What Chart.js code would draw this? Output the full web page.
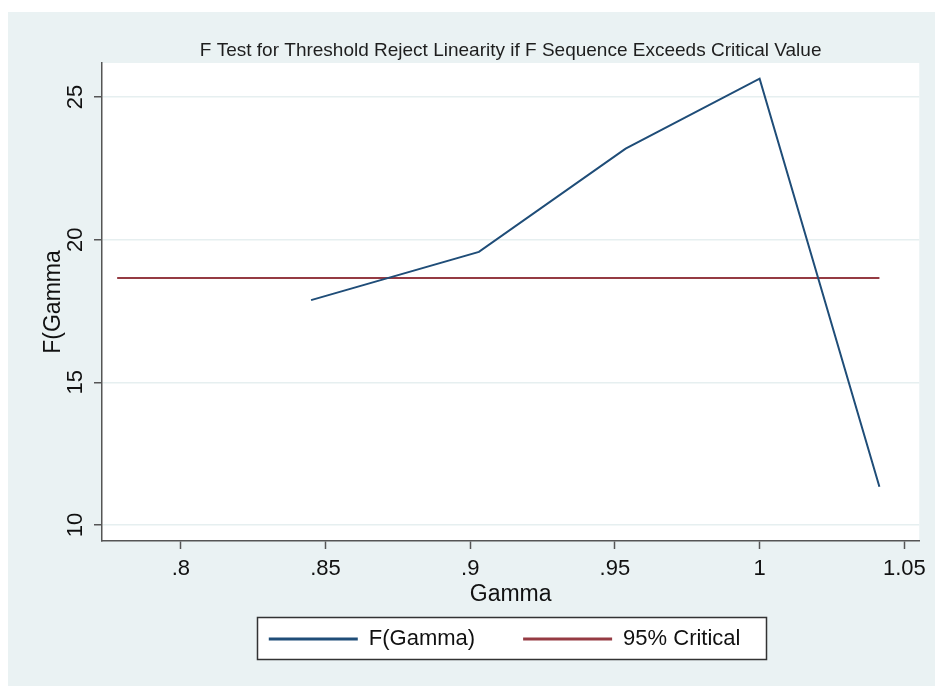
<!DOCTYPE html>
<html>
<head>
<meta charset="utf-8">
<script src="https://cdn.jsdelivr.net/npm/chart.js@4/dist/chart.umd.min.js"></script>
<style>
  html, body { margin: 0; padding: 0; background: #ffffff; }
  #wrap { position: absolute; left: 0; top: 0; width: 935px; height: 686px; }
</style>
</head>
<body>
<div id="wrap"><canvas id="c" width="935" height="686"></canvas></div>
<script>
// Threshold grid (gamma) and the F statistic at each threshold
const gamma    = [0.778, 0.845, 0.903, 0.9537, 1.0, 1.0414];
const fGamma   = [null, 17.88, 19.57, 23.19, 25.64, 11.34];
// 95% critical value, constant across the grid
const critical = [18.66, 18.66, 18.66, 18.66, 18.66, 18.66];

// Axis ticks
const xTicks = [0.8, 0.85, 0.9, 0.95, 1.0, 1.05];
const yTicks = [10, 15, 20, 25];

const FONT = "'Liberation Sans', Arial, sans-serif";
const NAVY = '#1f4d78';
const MAROON = '#953b43';
const BG = '#eaf2f3';

const toPts = (xs, ys) => xs.map((x, i) => ({ x: x, y: ys[i] }));

const stataFrame = {
  id: 'stataFrame',
  afterLayout(chart) {
    // legend row sits inside its framed box below the axis title
    const lg = chart.legend;
    const h = lg.height;
    lg.top = 580;
    lg.bottom = lg.top + h;
    lg.left -= 6;
    lg.right -= 6;
  },
  beforeDraw(chart) {
    const ctx = chart.ctx;
    const a = chart.chartArea;
    ctx.save();
    // graph region
    ctx.fillStyle = BG;
    ctx.fillRect(8, 12, 935 - 8, 686 - 12);
    // plot region
    ctx.fillStyle = '#ffffff';
    ctx.fillRect(a.left, a.top, a.right - a.left, a.bottom - a.top);
    // legend frame
    ctx.fillStyle = '#ffffff';
    ctx.fillRect(257.5, 617.5, 509, 42);
    ctx.strokeStyle = '#333333';
    ctx.lineWidth = 1.5;
    ctx.strokeRect(257.5, 617.5, 509, 42);
    ctx.restore();
  }
};

new Chart(document.getElementById('c'), {
  type: 'line',
  data: {
    datasets: [
      {
        label: 'F(Gamma)',
        data: toPts(gamma, fGamma),
        borderColor: NAVY,
        backgroundColor: NAVY,
        borderWidth: 2,
        pointRadius: 0,
        tension: 0,
        fill: false
      },
      {
        label: '95% Critical',
        data: toPts(gamma, critical),
        borderColor: MAROON,
        backgroundColor: MAROON,
        borderWidth: 2,
        pointRadius: 0,
        tension: 0,
        fill: false
      }
    ]
  },
  options: {
    responsive: false,
    animation: false,
    devicePixelRatio: 1,
    layout: { padding: { left: 0, right: 14, top: 0, bottom: 0 } },
    plugins: {
      title: {
        display: true,
        fullSize: false,
        text: 'F Test for Threshold Reject Linearity if F Sequence Exceeds Critical Value',
        color: '#1e1e1e',
        font: { family: FONT, size: 19, weight: 'normal', lineHeight: 1.2 },
        padding: { top: 39, bottom: 1.2 }
      },
      legend: {
        display: true,
        position: 'bottom',
        fullSize: false,
        align: 'center',
        labels: {
          boxWidth: 89,
          boxHeight: 3,
          padding: 48,
          color: '#111111',
          font: { family: FONT, size: 22, lineHeight: 1 },
          generateLabels(chart) {
            const items = Chart.defaults.plugins.legend.labels.generateLabels(chart);
            items.forEach(it => { it.lineWidth = 0; });
            return items;
          }
        }
      },
      tooltip: { enabled: false }
    },
    scales: {
      x: {
        type: 'linear',
        position: 'bottom',
        min: 0.77276,
        max: 1.05517,
        afterBuildTicks(scale) { scale.ticks = xTicks.map(v => ({ value: v })); },
        afterFit(scale) { scale.height = 65; },
        ticks: {
          autoSkip: false,
          maxRotation: 0,
          minRotation: 0,
          padding: 9,
          color: '#111111',
          font: { family: FONT, size: 22, lineHeight: 1 },
          callback: v => String(v).replace(/^0\./, '.')
        },
        grid: {
          drawOnChartArea: false,
          drawTicks: true,
          tickLength: 8,
          tickColor: '#555555',
          tickWidth: 1.5
        },
        border: { display: true, color: '#555555', width: 1.5 },
        title: {
          display: true,
          text: 'Gamma',
          color: '#111111',
          font: { family: FONT, size: 23, lineHeight: 1 },
          padding: { top: 0, bottom: 0 }
        }
      },
      y: {
        type: 'linear',
        position: 'left',
        min: 9.44,
        max: 26.19,
        afterBuildTicks(scale) { scale.ticks = yTicks.map(v => ({ value: v })); },
        afterFit(scale) { scale.width = 102; },
        ticks: {
          autoSkip: false,
          minRotation: 90,
          maxRotation: 90,
          crossAlign: 'center',
          padding: 6,
          color: '#111111',
          font: { family: FONT, size: 22, lineHeight: 1 }
        },
        grid: {
          drawOnChartArea: true,
          color: '#e6eff0',
          lineWidth: 1.5,
          drawTicks: true,
          tickLength: 8,
          tickColor: '#555555',
          tickWidth: 1.5
        },
        border: { display: true, color: '#555555', width: 1.5 },
        title: {
          display: true,
          text: 'F(Gamma',
          color: '#111111',
          font: { family: FONT, size: 23, lineHeight: 1 },
          padding: { top: 42, bottom: 0 }
        }
      }
    }
  },
  plugins: [stataFrame]
});
</script>
</body>
</html>
